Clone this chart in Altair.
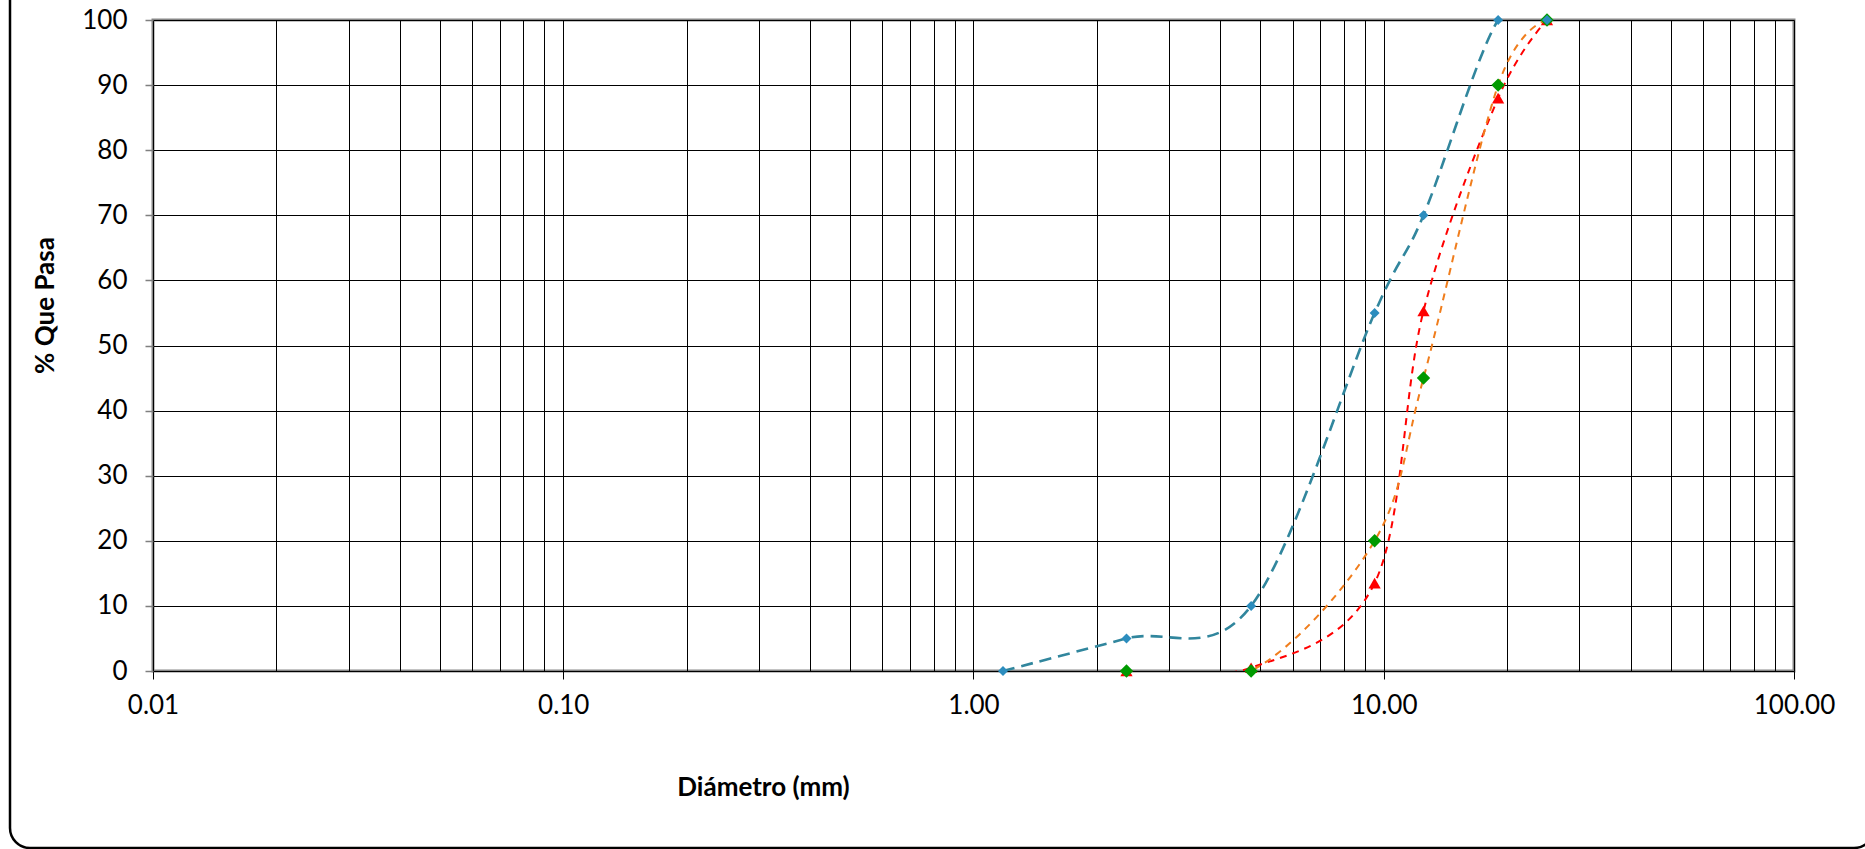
import altair as alt
import pandas as pd

# ---- data ----
blue_size = [1.18, 2.36, 4.75, 9.5, 12.5, 19.0, 25.0]
blue_pass = [0, 5, 10, 55, 70, 100, 100]

green_size = [2.36, 4.75, 9.5, 12.5, 19.0, 25.0]
green_pass = [0, 0, 20, 45, 90, 100]

red_size = [2.36, 4.75, 9.5, 12.5, 19.0, 25.0]
red_pass = [0, 0.5, 13.5, 55.3, 88, 100]

x_decades = [0.01, 0.1, 1, 10, 100]
x_grid_values = [0.01, 0.02, 0.03, 0.04, 0.05, 0.06, 0.07, 0.08, 0.09,
                 0.1, 0.2, 0.3, 0.4, 0.5, 0.6, 0.7, 0.8, 0.9,
                 1, 2, 3, 4, 5, 6, 7, 8, 9,
                 10, 20, 30, 40, 50, 60, 70, 80, 90, 100]
y_values = [0, 10, 20, 30, 40, 50, 60, 70, 80, 90, 100]

blue_df = pd.DataFrame({"d": blue_size, "p": blue_pass})
green_df = pd.DataFrame({"d": green_size, "p": green_pass})
red_df = pd.DataFrame({"d": red_size, "p": red_pass})

FONT = "Lato"
LABEL_FS = 26
TITLE_FS = 26
dec_test = "indexof([0.01, 0.1, 1, 10, 100], datum.value) >= 0"

x_axis = alt.Axis(
    values=x_grid_values, grid=True, gridColor="#000000", gridWidth=1, gridOpacity=1,
    domain=False, ticks=True, tickSize=8, tickColor="#000000", tickWidth=1,
    tickOpacity={"condition": {"test": dec_test, "value": 1}, "value": 0},
    labelExpr=dec_test + " ? format(datum.value, '.2f') : ''",
    labelFont=FONT, labelFontSize=LABEL_FS, labelColor="#000000", labelPadding=13,
    labelOverlap=False, labelFlush=False, labelBound=False,
    title="Diámetro (mm)", titleFont=FONT, titleFontSize=TITLE_FS, titleFontWeight="bold",
    titleColor="#000000", titleX=610, titleY=116, titleAlign="center", titleBaseline="middle",
)
y_axis = alt.Axis(
    values=y_values, grid=True, gridColor="#000000", gridWidth=1, gridOpacity=1,
    domain=False, ticks=True, tickSize=8, tickColor="#7f7f7f", tickWidth=1.5,
    labelFont=FONT, labelFontSize=LABEL_FS, labelColor="#000000", labelPadding=18,
    title="% Que Pasa", titleFont=FONT, titleFontSize=TITLE_FS, titleFontWeight="bold",
    titleColor="#000000", titleX=-108, titleY=285, titleAngle=270,
    titleAlign="center", titleBaseline="middle",
)

X = alt.X("d:Q", scale=alt.Scale(type="log", domain=[0.01, 100], nice=False), axis=x_axis)
Y = alt.Y("p:Q", scale=alt.Scale(domain=[0, 100], nice=False, zero=True), axis=y_axis)


def series(df, line_color, dash, line_w, marker_color, shape, size):
    line = alt.Chart(df).mark_line(
        interpolate="cardinal", color=line_color, strokeDash=dash, strokeWidth=line_w, clip=True
    ).encode(x=X, y=Y)
    pts = alt.Chart(df).mark_point(
        shape=shape, filled=True, color=marker_color, size=size, opacity=1, strokeWidth=0
    ).encode(x=X, y=Y)
    return [line, pts]


frame = alt.Chart(alt.Data(values=[{}])).mark_rect(
    fill="transparent", stroke="#000000", strokeWidth=2.5, cornerRadius=20
).encode(x=alt.value(-143), x2=alt.value(1721), y=alt.value(-60), y2=alt.value(828))

layers = [frame]
layers += series(red_df, "#ff0000", [7, 6], 2, "#ff0000", "triangle-up", 150)
layers += series(green_df, "#f07d1c", [7, 6], 2, "#009a00", "diamond", 180)
layers += series(blue_df, "#31869d", [12, 7], 2.6, "#2c8dbe", "diamond", 100)

chart = alt.layer(*layers).properties(
    width=1641, height=651,
    autosize=alt.AutoSizeParams(type="none"),
    padding={"left": 153, "top": 20, "right": 71, "bottom": 178},
    background="#ffffff",
).configure_view(stroke="#878787", strokeWidth=3)

chart.save("out.html", embed_options={"renderer": "svg", "actions": False})
